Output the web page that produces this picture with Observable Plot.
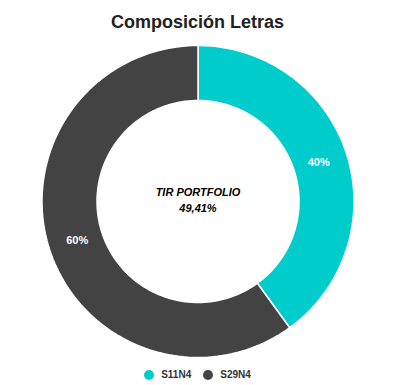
<!DOCTYPE html>
<html>
<head>
<meta charset="utf-8">
<script src="https://cdn.jsdelivr.net/npm/d3@7"></script>
<script src="https://cdn.jsdelivr.net/npm/@observablehq/plot@0.6"></script>
<style>
  html, body { margin: 0; padding: 0; background: #fff; }
  body { width: 414px; height: 385px; overflow: hidden; font-family: "Liberation Sans", Arial, sans-serif; }
  #title { width: 395px; height: 44px; line-height: 44px; text-align: center; font-size: 18px; font-weight: bold; color: #222222; }
  #chart { height: 320px; }
  #chart svg { display: block; }
  #legend { width: 395px; height: 21px; display: flex; justify-content: center; align-items: center; font-size: 10px; font-weight: bold; color: #333333; }
  .item { display: flex; align-items: center; margin: 0 6px; }
  .dot { width: 10px; height: 10px; border-radius: 50%; margin-right: 7px; }
</style>
</head>
<body>
<div id="title"></div>
<div id="chart"></div>
<div id="legend"></div>
<script>
const title = "Composición Letras";
const categories = ["S11N4", "S29N4"];
const values = [40, 60];
const colors = ["#00cccc", "#434343"];
const centerLines = ["TIR PORTFOLIO", "49,41%"];

document.getElementById("title").textContent = title;

const innerRatio = 101 / 156;
const pie = d3.pie().sort(null).value(d => d)(values);

const ring = [];
const labels = [];
pie.forEach((p, i) => {
  const n = 120;
  const pts = [];
  for (let k = 0; k <= n; k++) {
    const a = p.startAngle + (p.endAngle - p.startAngle) * k / n;
    pts.push({ name: categories[i], x: Math.sin(a), y: Math.cos(a) });
  }
  for (let k = n; k >= 0; k--) {
    const a = p.startAngle + (p.endAngle - p.startAngle) * k / n;
    pts.push({ name: categories[i], x: innerRatio * Math.sin(a), y: innerRatio * Math.cos(a) });
  }
  ring.push(...pts);
  const mid = (p.startAngle + p.endAngle) / 2;
  const r = (1 + innerRatio) / 2 - 0.01;
  labels.push({ x: r * Math.sin(mid), y: r * Math.cos(mid), text: Math.round(values[i] / d3.sum(values) * 100) + "%" });
});

const chart = Plot.plot({
  width: 414,
  height: 320,
  marginLeft: 41.5,
  marginRight: 60.5,
  marginTop: 1,
  marginBottom: 7,
  x: { domain: [-1, 1], axis: null },
  y: { domain: [-1, 1], axis: null },
  color: { domain: categories, range: colors },
  style: { fontFamily: "'Liberation Sans', Arial, sans-serif", background: "#fff" },
  marks: [
    Plot.line(ring, { x: "x", y: "y", z: "name", fill: "name", stroke: "#ffffff", strokeWidth: 1.5, curve: "linear-closed" }),
    Plot.text(labels, { x: "x", y: "y", text: "text", fill: "#ffffff", fontWeight: "bold", fontSize: 11 }),
    Plot.text([centerLines[0]], { x: () => 0, y: () => 0, text: d => d, dy: -9, fontStyle: "italic", fontWeight: "bold", fontSize: 11, fill: "#000" }),
    Plot.text([centerLines[1]], { x: () => 0, y: () => 0, text: d => d, dy: 7, fontStyle: "italic", fontWeight: "bold", fontSize: 11, fill: "#000" })
  ]
});
document.getElementById("chart").appendChild(chart);

const legend = document.getElementById("legend");
categories.forEach((c, i) => {
  const item = document.createElement("div");
  item.className = "item";
  const dot = document.createElement("span");
  dot.className = "dot";
  dot.style.background = colors[i];
  const t = document.createElement("span");
  t.textContent = c;
  item.appendChild(dot);
  item.appendChild(t);
  legend.appendChild(item);
});
</script>
</body>
</html>
